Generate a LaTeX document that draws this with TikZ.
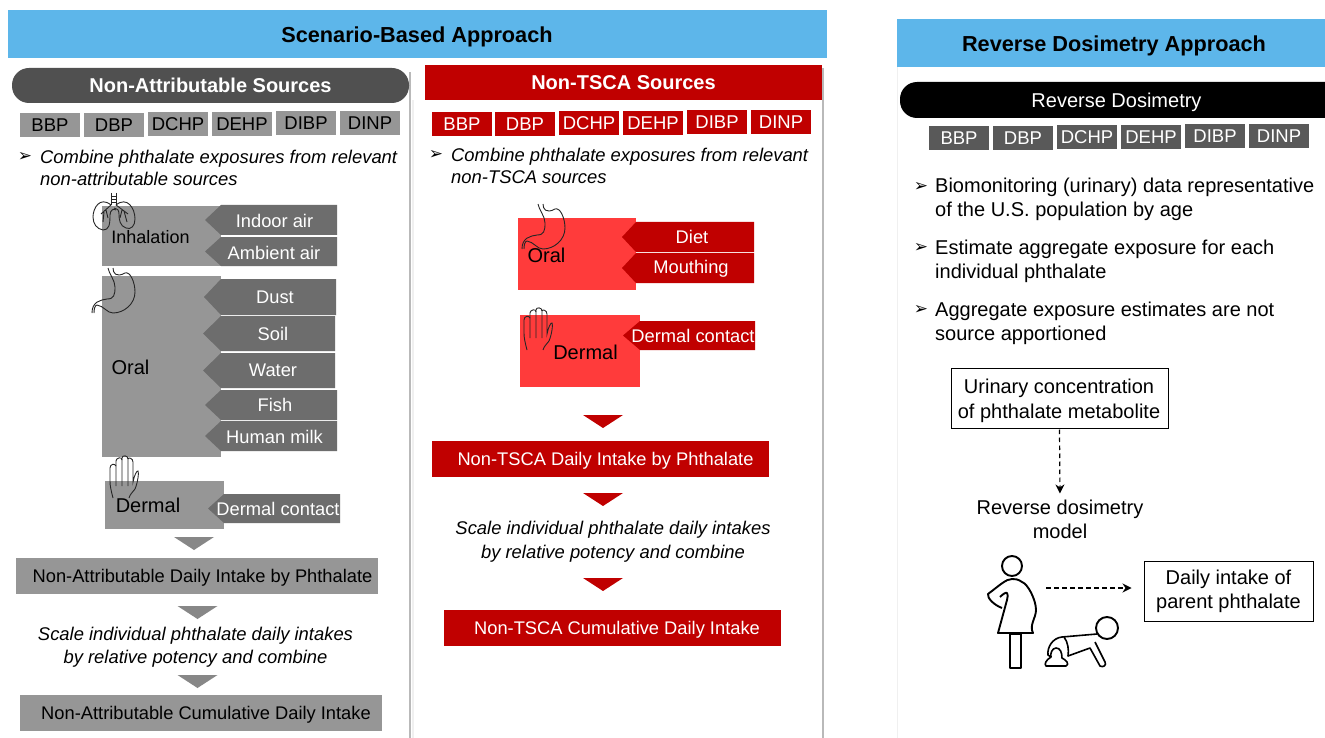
\documentclass[tikz,border=0pt]{standalone}
\usepackage{fontspec}
\setmainfont{Liberation Sans}
\newfontfamily\symfont{DejaVu Sans}
\definecolor{headblue}{HTML}{5DB6EA}
\definecolor{pillgray}{HTML}{505050}
\definecolor{routegray}{HTML}{969696}
\definecolor{srcgray}{HTML}{6D6D6D}
\definecolor{tagdark}{HTML}{595959}
\definecolor{routered}{HTML}{FF3B3B}
\definecolor{srcred}{HTML}{C00000}
\definecolor{shadegray}{HTML}{B9B9B9}
\usetikzlibrary{arrows.meta}
\tikzset{
	fsize/.style={font=\fontsize{#1}{24}\selectfont},
	headtext/.style={font=\fontsize{21.7}{26}\selectfont\bfseries,text=black},
	whitehead/.style={text=white,font=\fontsize{20}{26}\selectfont\bfseries},
	lbl/.style={fsize=20,text=black},
	tagtext/.style={fsize=18.5,inner sep=0pt,minimum width=60pt,minimum height=24pt},
	srctext/.style={fsize=18.3,text=white,inner sep=0pt},
	bartext/.style={fsize=18.3,inner sep=0pt},
	plain/.style={fsize=20,align=left,anchor=north west,inner sep=0pt,text=black},
	plaincentre/.style={fsize=20,align=center,inner sep=0pt,text=black},
	itext/.style={plain,font=\fontsize{18.4}{22}\selectfont\itshape},
	icentre/.style={plaincentre,font=\fontsize{18.4}{23.5}\selectfont\itshape},
	bul/.style={font=\fontsize{17}{18}\selectfont\symfont,inner sep=0pt,text=black},
	outbox/.style={draw=black,line width=1pt,inner sep=0pt},
	dasharrow/.style={dash pattern=on 4.5pt off 3.5pt,-{Stealth[length=9pt,width=9pt]},line width=1.2pt},
	pics/stomachicon/.style={code={
		\draw[black!85,line width=0.9pt] (16,0) .. controls (17,6) and (23,12) .. (23,19) .. controls (23,27) and (22,31) .. (15,31) .. controls (8,32) and (0,34) .. (0,45);
		\draw[black!85,line width=0.9pt] (21,0) .. controls (21,5) and (24,10) .. (33,5) .. controls (38,3) and (43,14) .. (43,24) .. controls (43,36) and (32,45) .. (21,45) .. controls (15,45) and (12,38) .. (5,37) .. controls (3,37) and (2,41) .. (2,45);
	}},
	pics/handicon/.style={code={
		\draw[black!85,line width=0.9pt] (4,42) .. controls (2,34) and (1,30) .. (1,25) -- (1,12) .. controls (1,8) and (6,7) .. (7,10) -- (7,30);
		\draw[black!85,line width=0.9pt] (7,10) -- (7,5) .. controls (7,2) and (13,0) .. (13,4) -- (13,30);
		\draw[black!85,line width=0.9pt] (13,4) -- (13,2) .. controls (13,-1) and (19,-1) .. (19,3) -- (19,30);
		\draw[black!85,line width=0.9pt] (19,3) .. controls (19,1) and (24,2) .. (24,6) -- (24,26) .. controls (25,20) and (28,14) .. (29,15) .. controls (30,16) and (29,26) .. (26,33) .. controls (24,36) and (21,38) .. (20,42);
	}},
}
\begin{document}
\begin{tikzpicture}[x=1pt,y=-1pt]
	\useasboundingbox (0,0) rectangle (1325,738);
	\fill[white] (0,0) rectangle (1325,738);

	% panels
	\fill[black!6] (897,67) rectangle (898,738);
	\fill[black!6] (412,100) rectangle (414,738);
	\fill[shadegray] (409,72) rectangle (411,738);
	\fill[shadegray] (822,68) rectangle (824,738);

	% headers
	\node[fill=headblue,minimum width=819pt,minimum height=48pt,inner sep=0pt] (scenario) at (417.5,34) {};
	\node[headtext] (scenariotext) at (417,36.5) {Scenario-Based Approach};
	\node[fill=headblue,minimum width=428pt,minimum height=48pt,inner sep=0pt] (reverse) at (1111,43) {};
	\node[headtext] (reversetext) at (1114,45.5) {Reverse Dosimetry Approach};
	\node[fill=pillgray,rounded corners=17pt,minimum width=397pt,minimum height=35pt,inner sep=0pt,whitehead] (nonattr) at (210.5,85.5) {Non-Attributable Sources};
	\node[fill=srcred,minimum width=397pt,minimum height=35pt,inner sep=0pt,whitehead] (nontsca) at (623.5,82.5) {Non-TSCA Sources};
	\fill[black,rounded corners=17pt] (900,82) rectangle (1345,118);
	\node[fsize=20,text=white,inner sep=0pt] (revdose) at (1116.5,102) {Reverse Dosimetry};

	% chemicals
	\foreach \cx/\cy/\lab in {50/125/BBP,114/125/DBP,178/124.5/DCHP,242/124/DEHP,306/123.5/DIBP,370/123/DINP}
		\node[tagtext,fill=routegray,text=black] (left\lab) at (\cx,\cy) {\lab};
	\foreach \cx/\cy/\lab in {462/124/BBP,525/124/DBP,589/123/DCHP,653/123/DEHP,717/122.5/DIBP,781/122/DINP}
		\node[tagtext,fill=srcred,text=white] (mid\lab) at (\cx,\cy) {\lab};
	\foreach \cx/\cy/\lab in {959/138/BBP,1023/138/DBP,1087/137.5/DCHP,1151/137/DEHP,1215/136.5/DIBP,1279/136/DINP}
		\node[tagtext,fill=tagdark,text=white] (right\lab) at (\cx,\cy) {\lab};

	% combine texts
	\node[bul] (bulleta) at (25,157) {➢};
	\node[itext] (combinea) at (40,149.5) {Combine phthalate exposures from relevant\\non-attributable sources};
	\node[bul] (bulletb) at (436,155) {➢};
	\node[itext] (combineb) at (451,147.5) {Combine phthalate exposures from relevant\\non-TSCA sources};

	% routes
	\fill[routegray] (102,206) rectangle (221,266);
	\fill[routegray] (102,276) rectangle (221,457);
	\fill[routegray] (105,481) rectangle (224,529);
	\fill[routered] (518,218) rectangle (636,290);
	\fill[routered] (520,315) rectangle (640,387);

	% sources
	\foreach \xa/\xb/\ya/\yb/\tip/\lab/\cx/\ty in {221/337/205/235/205/Indoor air/274.5/220.5,221/337/237/266/205/Ambient air/274/252.5,221/336/279/315/204/Dust/275/297,221/335/316/351/203/Soil/273/333.5,221/335/353/388/203/Water/273/370.5,221/337/390/420/205/Fish/275/405,221/337/421/451/205/Human milk/274.5/436.5,224/340/494/523/208/Dermal contact/278/509}
	{
		\fill[srcgray] (\xa,\ya) -- (\xb,\ya) -- (\xb,\yb) -- (\xa,\yb) -- (\tip,{(\ya+\yb)/2}) -- cycle;
		\node[srctext] at (\cx,\ty) {\lab};
	}
	\foreach \xa/\xb/\ya/\yb/\tip/\lab/\cx/\ty in {636/754/222/252/622/Diet/692/237,636/754/253/283/622/Mouthing/691/268.5,640/755/321/350/623/Dermal contact/693/336}
	{
		\fill[srcred] (\xa,\ya) -- (\xb,\ya) -- (\xb,\yb) -- (\xa,\yb) -- (\tip,{(\ya+\yb)/2}) -- cycle;
		\node[srctext] at (\cx,\ty) {\lab};
	}

	% route icons
	\pic at (92,268) {stomachicon};
	\pic at (522,204) {stomachicon};
	\pic at (109,456) {handicon};
	\pic at (523,308) {handicon};
	\begin{scope}[black!85,line width=0.9pt]
		\draw (111,193) -- (111,205) (116,193) -- (116,205) (111,196) -- (116,196) (111,199) -- (116,199) (111,202) -- (116,202);
		\draw (111,205) .. controls (100,196) and (93,208) .. (93,217) .. controls (93,224) and (97,229) .. (103,230) .. controls (109,230) and (110,225) .. (110,215) .. controls (110,210) and (114,208) .. (116,210);
		\draw (116,205) .. controls (127,196) and (135,208) .. (135,219) .. controls (135,226) and (131,230) .. (126,228) .. controls (120,226) and (119,220) .. (119,214) .. controls (119,210) and (117,208) .. (114,208);
		\draw (111,205) -- (101,214) (104,212) -- (103,222) (106,210) -- (108,218);
		\draw (116,205) -- (128,214) (124,211) -- (127,222) (122,210) -- (120,218);
	\end{scope}
	\node[lbl,fsize=18] (inhalation) at (150.5,237) {Inhalation};
	\node[lbl] (oralleft) at (130.5,367) {Oral};
	\node[lbl] (dermalleft) at (148,505.5) {Dermal};
	\node[lbl] (oralmid) at (546.5,255.5) {Oral};
	\node[lbl] (dermalmid) at (585.5,352.5) {Dermal};

	% down arrows
	\foreach \cx/\cy in {194/537,197.5/606,197.5/675}
		\fill[routegray!90!black] (\cx-20,\cy) -- (\cx+20,\cy) -- (\cx,\cy+13) -- cycle;
	\foreach \cx/\cy in {603/415,603/493,603/578}
		\fill[srcred] (\cx-20,\cy) -- (\cx+20,\cy) -- (\cx,\cy+13) -- cycle;

	% intake bars
	\node[bartext,fill=routegray,minimum width=362pt,minimum height=36pt,text=black] (dailyleft) at (197,576) {};
	\node[bartext] (dailylefttext) at (202.5,578) {Non-Attributable Daily Intake by Phthalate};
	\node[icentre] (scaleleft) at (195.5,647) {Scale individual phthalate daily intakes\\by relative potency and combine};
	\node[bartext,fill=routegray,minimum width=362pt,minimum height=36pt] (cumleft) at (201,713) {};
	\node[bartext] (cumlefttext) at (206,715) {Non-Attributable Cumulative Daily Intake};
	\node[bartext,fill=srcred,minimum width=337pt,minimum height=36pt] (dailymid) at (600.5,459) {};
	\node[bartext,text=white] (dailymidtext) at (605.5,461) {Non-TSCA Daily Intake by Phthalate};
	\node[icentre] (scalemid) at (613,541.5) {Scale individual phthalate daily intakes\\by relative potency and combine};
	\node[bartext,fill=srcred,minimum width=337pt,minimum height=36pt] (cummid) at (612.5,628) {};
	\node[bartext,text=white] (cummidtext) at (617,630) {Non-TSCA Cumulative Daily Intake};

	% reverse dosimetry side
	\node[bul] (bulletc) at (921,187) {➢};
	\node[plain] (biotext) at (935,177.5) {Biomonitoring (urinary) data representative\\of the U.S. population by age};
	\node[bul] (bulletd) at (921,248) {➢};
	\node[plain] (estimatetext) at (935,239.5) {Estimate aggregate exposure for each\\individual phthalate};
	\node[bul] (bullete) at (921,310) {➢};
	\node[plain] (aggtext) at (935,301.5) {Aggregate exposure estimates are not\\source apportioned};

	\node[outbox,minimum width=217pt,minimum height=60pt] (urine) at (1059.5,398) {};
	\node[plaincentre,font=\fontsize{20}{25}\selectfont] (urinetext) at (1059,400.5) {Urinary concentration\\of phthalate metabolite};
	\node[plaincentre] (model) at (1060,519) {Reverse dosimetry\\model};
	\node[outbox,minimum width=169pt,minimum height=60pt] (intake) at (1228.5,591) {};
	\node[plaincentre] (intaketext) at (1228.5,591.5) {Daily intake of\\parent phthalate};
	\coordinate (pregnant) at (1046,588);
	\draw[dasharrow,shorten <=1pt,shorten >=6pt] (urine.south) -- (model.north);
	\draw[dasharrow,shorten >=12pt] (pregnant) -- (intake.west |- pregnant);

	% woman and infant
	\begin{scope}[black,line width=1.9pt,line join=round]
		\draw (1012,566) circle (10);
		\draw (1012,579) .. controls (1006,579) and (1000,585) .. (988,594) .. controls (987,598) and (994,605) .. (1002,608);
		\draw (1000,597) .. controls (1003,594) and (1006,592) .. (1007,593) .. controls (1008,594) and (1008,597) .. (1007,600) -- (998,633) -- (1033,633) .. controls (1029,625) and (1036,618) .. (1036,610) .. controls (1036,600) and (1028,584) .. (1022,582) .. controls (1018,579) and (1015,579) .. (1012,579);
		\draw (1010,634) rectangle (1021,668);
		\draw (1107,628) circle (11);
		\draw[line width=1.6pt] (1097,634) -- (1062,637) .. controls (1052,638) and (1047,648) .. (1048,655) -- (1051,657) .. controls (1046,660) and (1044,664) .. (1046,666) -- (1066,666) .. controls (1070,664) and (1066,660) .. (1062,658) .. controls (1062,652) and (1060,648) .. (1056,648) .. controls (1052,648) and (1050,654) .. (1051,657);
		\draw[line width=1.6pt] (1064,637) .. controls (1068,642) and (1069,650) .. (1068,656) -- (1090,648) -- (1100,666) .. controls (1103,668) and (1107,665) .. (1105,662) -- (1095,642);
	\end{scope}
\end{tikzpicture}
\end{document}
